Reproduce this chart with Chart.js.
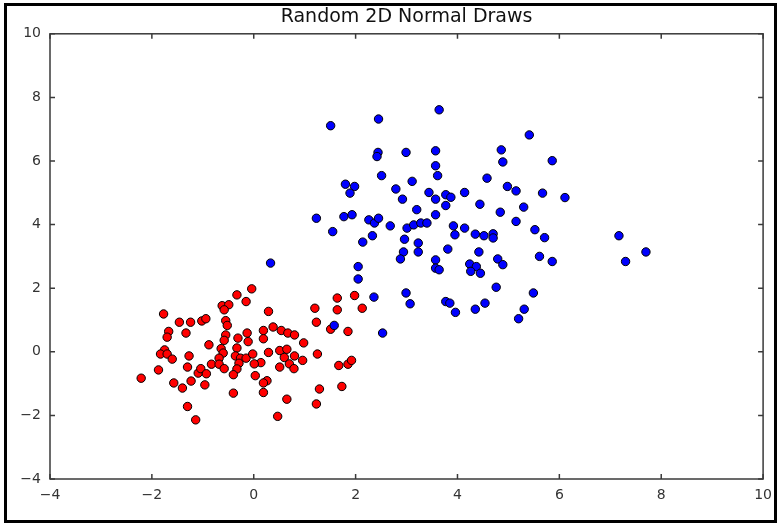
<!DOCTYPE html>
<html>
<head>
<meta charset="utf-8">
<script src="https://cdn.jsdelivr.net/npm/chart.js@4.4.1/dist/chart.umd.min.js"></script>
<style>
  html, body { margin: 0; padding: 0; background: #fff; }
  #wrap { width: 780px; height: 525px; position: relative; }
</style>
</head>
<body>
<div id="wrap"><canvas id="c" width="780" height="525"></canvas></div>
<script>
const chartTitle = "Random 2D Normal Draws";
const xTickValues = [-4, -2, 0, 2, 4, 6, 8, 10];
const yTickValues = [-4, -2, 0, 2, 4, 6, 8, 10];

const redX = [-1.77,-1.46,-1.24,-1.02,-0.94,-1.67,-1.70,-1.33,-0.33,-0.15,-0.62,-0.49,-0.58,-0.55,-0.52,-0.55,-0.58,-0.88,-0.64,-0.60,-0.68,-0.31,-0.13,-0.33,-0.36,-0.26,-0.15,-0.29,-0.33,-0.40,-1.75,-1.83,-1.70,-1.60,-1.27,-1.30,-1.87,-2.21,-1.57,-1.40,-1.23,-1.09,-1.04,-0.93,-0.96,-0.83,-0.68,-0.58,-0.40,-1.30,-1.14,
  -0.04,0.29,0.38,0.54,0.67,0.80,0.98,0.19,0.19,-0.11,-0.02,0.29,0.51,0.65,0.60,0.80,0.70,0.79,0.96,0.51,1.25,0.14,0.01,0.03,0.26,0.19,0.19,0.65,0.47,1.20,1.23,1.51,1.64,1.64,1.98,2.13,1.85,1.67,1.85,1.92,1.73,1.29,1.23];
const redY = [1.19,0.93,0.93,0.97,1.04,0.64,0.46,0.59,1.79,1.58,1.45,1.48,1.32,0.98,0.83,0.53,0.36,0.22,0.10,-0.04,-0.20,0.43,0.59,0.12,-0.13,-0.20,-0.20,-0.36,-0.54,-0.72,0.06,-0.07,-0.07,-0.23,-0.13,-0.48,-0.57,-0.83,-0.98,-1.14,-0.92,-0.67,-0.53,-0.69,-1.04,-0.39,-0.39,-0.53,-1.30,-1.72,-2.14,
  1.98,1.27,0.78,0.67,0.59,0.53,0.28,0.67,0.41,0.32,-0.07,-0.02,0.04,0.08,-0.18,-0.13,-0.38,-0.53,-0.27,-0.48,-0.07,-0.34,-0.38,-0.75,-0.91,-0.98,-1.28,-1.49,-2.03,1.37,0.93,0.71,1.69,1.32,1.77,1.37,0.64,-0.43,-0.39,-0.27,-1.09,-1.17,-1.64];

const blueX = [1.23,1.77,1.93,1.55,2.26,2.37,2.45,2.68,2.33,2.14,0.33,2.05,2.05,2.36,1.58,2.53,1.51,2.45,2.44,2.42,2.51,1.80,1.98,1.89,3.64,2.99,3.57,3.57,3.61,3.11,2.79,2.92,3.44,3.57,3.77,3.87,3.77,4.14,3.20,3.57,4.44,4.58,4.86,4.89,4.98,4.84,3.01,3.14,3.28,3.40,3.92,3.95,4.14,4.35,4.52,4.70,4.70,2.96,3.23,3.23,2.94,2.88,3.81,4.42,3.57,3.57,3.64,4.24,4.37,4.26,4.45,4.79,4.89,4.76,2.99,3.07,3.77,3.85,3.96,4.35,4.54,5.41,5.86,5.15,5.67,6.11,5.30,5.15,5.52,5.71,5.61,5.86,7.17,7.70,7.30,5.49,5.31,5.20];
const blueY = [4.20,4.25,4.31,3.78,4.15,4.05,4.20,3.96,3.65,3.45,2.79,2.68,2.29,1.72,0.83,0.59,7.11,7.32,6.27,6.14,5.54,5.27,5.20,4.99,7.61,6.27,6.32,5.85,5.54,5.36,5.12,4.80,5.01,4.80,4.94,4.86,4.60,5.01,4.47,4.31,4.64,5.46,6.35,5.97,5.20,4.39,3.89,3.99,4.05,4.05,3.96,3.68,3.89,3.70,3.65,3.71,3.58,3.54,3.42,3.14,3.14,2.92,3.23,3.14,2.89,2.63,2.58,2.76,2.68,2.53,2.47,2.92,2.74,2.03,1.85,1.51,1.58,1.53,1.24,1.34,1.53,6.82,6.01,5.06,4.99,4.85,4.55,4.10,3.84,3.59,3.00,2.84,3.65,3.14,2.84,1.85,1.34,1.04];

const toPoints = (xs, ys) => xs.map((x, i) => ({ x: x, y: ys[i] }));
const fmt = v => (v < 0 ? '\u2212' + Math.abs(v) : String(v));

const framePlugin = {
  id: 'framePlugin',
  beforeDraw(chart) {
    const ctx = chart.ctx;
    ctx.save();
    ctx.fillStyle = '#ffffff';
    ctx.fillRect(0, 0, chart.width, chart.height);
    ctx.restore();
  },
  afterDraw(chart) {
    const { ctx, chartArea, scales } = chart;
    const { left, right, top, bottom } = chartArea;
    ctx.save();
    ctx.strokeStyle = '#3a3a3a';
    ctx.lineWidth = 1.5;
    ctx.strokeRect(left, top, right - left, bottom - top);
    ctx.beginPath();
    const tl = 5;
    scales.x.ticks.forEach(t => {
      const px = scales.x.getPixelForValue(t.value);
      ctx.moveTo(px, bottom); ctx.lineTo(px, bottom - tl);
      ctx.moveTo(px, top); ctx.lineTo(px, top + tl);
    });
    scales.y.ticks.forEach(t => {
      const py = scales.y.getPixelForValue(t.value);
      ctx.moveTo(left, py); ctx.lineTo(left + tl, py);
      ctx.moveTo(right, py); ctx.lineTo(right - tl, py);
    });
    ctx.stroke();
    // outer figure frame
    ctx.strokeStyle = '#000';
    ctx.lineWidth = 3;
    ctx.strokeRect(5.5, 4.5, 770, 517);
    ctx.restore();
  }
};

new Chart(document.getElementById('c'), {
  type: 'scatter',
  data: {
    datasets: [
      {
        label: 'red',
        data: toPoints(redX, redY),
        backgroundColor: '#ff0000',
        borderColor: '#000000',
        borderWidth: 1,
        pointRadius: 4.2,
        order: 2
      },
      {
        label: 'blue',
        data: toPoints(blueX, blueY),
        backgroundColor: '#0000ff',
        borderColor: '#000000',
        borderWidth: 1,
        pointRadius: 4.2,
        order: 1
      }
    ]
  },
  options: {
    responsive: false,
    animation: false,
    events: [],
    layout: { padding: { left: 0, right: 12, top: 0, bottom: 0 } },
    plugins: {
      legend: { display: false },
      tooltip: { enabled: false },
      title: {
        display: true,
        text: chartTitle,
        fullSize: false,
        color: '#111',
        font: { family: 'DejaVu Sans', size: 19, weight: 'normal', lineHeight: 1.2 },
        padding: { top: 6, bottom: 5 }
      }
    },
    scales: {
      x: {
        type: 'linear',
        min: xTickValues[0],
        max: xTickValues[xTickValues.length - 1],
        afterBuildTicks: s => { s.ticks = xTickValues.map(v => ({ value: v })); },
        afterFit: s => { s.height = 46; },
        grid: { display: false, drawTicks: false },
        border: { display: false },
        ticks: {
          callback: fmt,
          color: '#333',
          padding: 8,
          maxRotation: 0,
          font: { family: 'DejaVu Sans', size: 14 }
        }
      },
      y: {
        type: 'linear',
        min: yTickValues[0],
        max: yTickValues[yTickValues.length - 1],
        afterBuildTicks: s => { s.ticks = yTickValues.map(v => ({ value: v })); },
        afterFit: s => { s.width = 50; },
        grid: { display: false, drawTicks: false },
        border: { display: false },
        ticks: {
          callback: fmt,
          color: '#333',
          padding: 9,
          font: { family: 'DejaVu Sans', size: 14 }
        }
      }
    }
  },
  plugins: [framePlugin]
});
</script>
</body>
</html>
